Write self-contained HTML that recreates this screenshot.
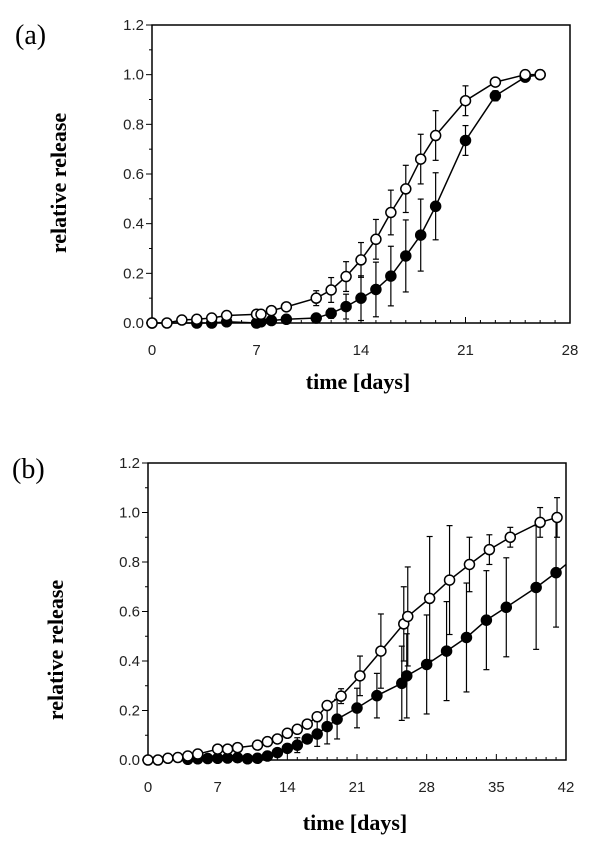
<!DOCTYPE html>
<html><head><meta charset="utf-8"><style>
html,body{margin:0;padding:0;background:#fff;}
svg{display:block;}
</style></head><body>
<svg id="chart" width="608" height="843" xmlns="http://www.w3.org/2000/svg" font-family="'Liberation Sans', sans-serif">
<text x="15" y="44" font-family="'Liberation Serif', serif" font-size="28">(a)</text>
<text x="12" y="478" font-family="'Liberation Serif', serif" font-size="28">(b)</text>
<text transform="translate(66,183) rotate(-90)" text-anchor="middle" font-family="'Liberation Serif', serif" font-weight="bold" font-size="22">relative release</text>
<text transform="translate(63,650) rotate(-90)" text-anchor="middle" font-family="'Liberation Serif', serif" font-weight="bold" font-size="22">relative release</text>
<text x="358" y="389" text-anchor="middle" font-family="'Liberation Serif', serif" font-weight="bold" font-size="22">time [days]</text>
<text x="355" y="830" text-anchor="middle" font-family="'Liberation Serif', serif" font-weight="bold" font-size="22">time [days]</text>
</svg>
<script>
// Panel (a)
const aDaysOpen = [0,1,2,3,4,5,7,7.3,8,9,11,12,13,14,15,16,17,18,19,21,23,25,26];
const aOpen     = [0,0,0.012,0.015,0.02,0.03,0.035,0.035,0.05,0.065,0.1,0.133,0.187,0.254,0.337,0.445,0.54,0.66,0.755,0.895,0.97,1.0,1.0];
const aOpenErr  = [0,0,0,0,0,0,0,0,0,0,0.03,0.05,0.06,0.07,0.08,0.09,0.095,0.1,0.1,0.06,0,0,0];
const aDaysFill = [0,3,4,5,7,7.3,8,9,11,12,13,14,15,16,17,18,19,21,23,25,26];
const aFill     = [0,0,0,0.005,0,0.005,0.01,0.015,0.02,0.039,0.066,0.1,0.135,0.189,0.27,0.354,0.47,0.735,0.915,0.99,1.0];
const aFillErr  = [0,0,0,0,0,0,0,0,0,0.02,0.05,0.09,0.11,0.12,0.145,0.145,0.135,0.06,0.02,0,0];
const aXTicks = [0,7,14,21,28];
// Panel (b)
const bDaysOpen = [0,1,2,3,4,5,7,8,9,11,12,13,14,15,16,17,18,19.4,21.3,23.4,25.7,26.1,28.3,30.3,32.3,34.3,36.4,39.4,41.1];
const bOpen     = [0,0,0.007,0.01,0.016,0.024,0.044,0.044,0.05,0.06,0.074,0.085,0.108,0.124,0.145,0.175,0.22,0.258,0.34,0.44,0.55,0.58,0.653,0.727,0.79,0.85,0.9,0.96,0.98];
const bOpenErr  = [0,0,0,0,0,0,0,0,0,0,0,0,0,0,0,0,0,0.03,0.08,0.15,0.15,0.2,0.25,0.22,0.11,0.06,0.04,0.06,0.08];
const bDaysFill = [4,5,6,7,8,9,10,11,12,13,14,15,16,17,18,19,21,23,25.5,26,28,30,32,34,36,39,41,42];
const bFill     = [0.003,0.005,0.006,0.007,0.008,0.009,0.005,0.007,0.016,0.03,0.047,0.06,0.085,0.105,0.135,0.165,0.21,0.26,0.31,0.34,0.386,0.44,0.495,0.565,0.617,0.697,0.757,0.79];
const bFillErr  = [0,0,0,0,0,0,0,0,0,0,0,0.03,0,0.05,0.07,0.08,0.08,0.09,0.15,0.17,0.2,0.2,0.22,0.2,0.2,0.25,0.22,0];
const bXTicks = [0,7,14,21,28,35,42];
const yTicks = [0,0.2,0.4,0.6,0.8,1.0,1.2];

const NS = "http://www.w3.org/2000/svg";
const svg = document.getElementById('chart');
function mk(tag, attrs, parent){
  const e = document.createElementNS(NS, tag);
  for (const k in attrs) e.setAttribute(k, attrs[k]);
  (parent||svg).appendChild(e);
  return e;
}
function panel(p){
  const sx = d => p.x0 + (d/p.xmax)*(p.x1-p.x0);
  const sy = v => p.y0 - (v/1.2)*(p.y0-p.y1);
  const g = mk('g', {});
  
  
  const frame = mk('rect', {x:p.x0, y:p.y1, width:p.x1-p.x0, height:p.y0-p.y1, fill:'none', stroke:'#000', 'stroke-width':1.5}, g);
  
  
  for (let i=0;i<=12;i++){
    const v=i/10, y=sy(v), len = i%2===0?6:3;
    mk('line',{x1:p.x0-len,x2:p.x0,y1:y,y2:y,stroke:'#000','stroke-width':1},g);
  }
  yTicks.forEach(v=>{
    const t = mk('text',{x:p.x0-8,y:sy(v)+5,'text-anchor':'end','font-size':15,fill:'#222'},g);
    t.textContent = v.toFixed(1);
    
    
  });
  for (let d=0; d<=p.xmax; d++){
    const x=sx(d), len = d%7===0?6:3;
    mk('line',{x1:x,x2:x,y1:p.y0,y2:p.y0-len,stroke:'#000','stroke-width':1},g);
  }
  p.xticks.forEach(d=>{
    const t = mk('text',{x:sx(d),y:p.y0+32,'text-anchor':'middle','font-size':15,fill:'#222'},g);
    t.textContent = d;
    
    
  });
  function series(days, vals, errs, filled, nm){
    const sg = mk('g',{},g);
    
    
    days.forEach((d,i)=>{
      if (errs[i]>0){
        const x=sx(d), ya=sy(vals[i]+errs[i]), yb=sy(Math.max(0,vals[i]-errs[i]));
        mk('line',{x1:x,x2:x,y1:ya,y2:yb,stroke:'#000','stroke-width':1.2},sg);
        mk('line',{x1:x-3,x2:x+3,y1:ya,y2:ya,stroke:'#000','stroke-width':1.2},sg);
        mk('line',{x1:x-3,x2:x+3,y1:yb,y2:yb,stroke:'#000','stroke-width':1.2},sg);
      }
    });
    const pts = days.map((d,i)=>sx(d)+','+sy(vals[i])).join(' ');
    mk('polyline',{points:pts,fill:'none',stroke:'#000','stroke-width':1.5},sg);
    days.forEach((d,i)=>{
      if (sx(d) > p.x1-1) return;
      const c = mk('circle',{cx:sx(d),cy:sy(vals[i]),r:5,fill:filled?'#000':'#fff',stroke:'#000','stroke-width':1.5},sg);
      
      
    });
  }
  series(p.dF,p.vF,p.eF,true,'filled-series');
  series(p.dO,p.vO,p.eO,false,'open-series');
}
panel({name:'panel-a',x0:152,x1:570,y0:323,y1:25,xmax:28,xticks:aXTicks,dO:aDaysOpen,vO:aOpen,eO:aOpenErr,dF:aDaysFill,vF:aFill,eF:aFillErr});
panel({name:'panel-b',x0:148,x1:566,y0:760,y1:463,xmax:42,xticks:bXTicks,dO:bDaysOpen,vO:bOpen,eO:bOpenErr,dF:bDaysFill,vF:bFill,eF:bFillErr});
</script>
</body></html>
